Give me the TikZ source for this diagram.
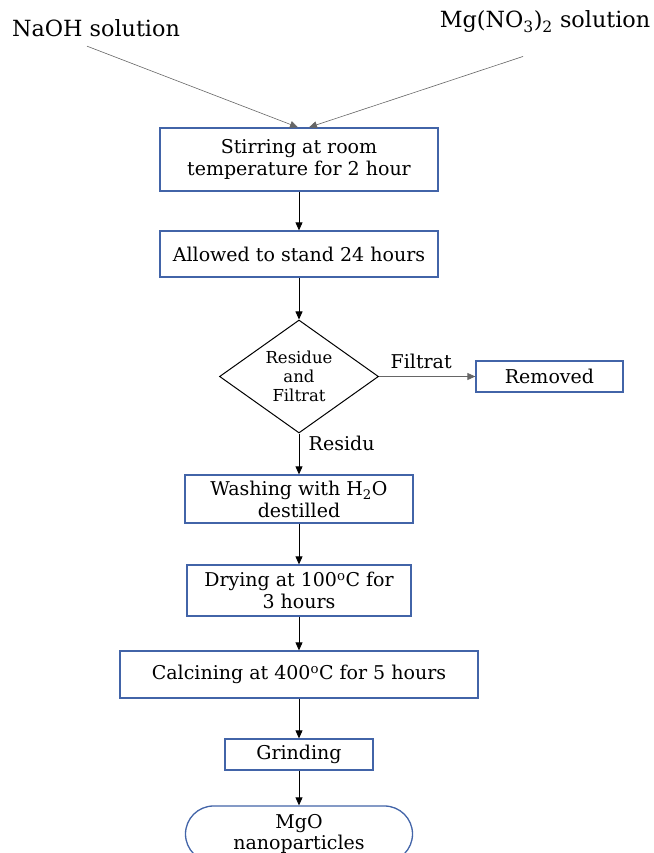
\documentclass[tikz,border=0pt]{standalone}
\usepackage{fontspec}
\setmainfont{DejaVu Serif}
\usepackage{tikz}
\usetikzlibrary{arrows.meta,shapes,calc}
\usetikzlibrary{positioning}
\definecolor{boxblue}{RGB}{66,100,168}
\tikzset{
    stage/.style={
           rectangle,
           draw=boxblue, line width=1.3pt,
           inner sep=2pt,
           align=center,
           font=\fontsize{19}{22}\selectfont,
           },
    split/.style={
           diamond,
           aspect=1.4,
           draw=black, line width=1pt,
           inner sep=0pt,
           minimum width=159pt,
           minimum height=113pt,
           align=center,
           font=\fontsize{16.5}{19}\selectfont,
           },
    pil/.style={
           -{Triangle[length=8pt,width=7pt]},
           line width=0.8pt,},
    feed/.style={
           -{Triangle[length=8pt,width=7pt]},
           line width=0.6pt,
           draw=black!60,}
}

\begin{document}
\begin{tikzpicture}[font=\fontsize{19}{22}\selectfont]
\path[use as bounding box] (0,0) rectangle (653pt,-853pt);
\clip (0,0) rectangle (653pt,-853pt);
% Starting solutions (NAOH, MG)
\node[font=\fontsize{22.3}{25}\selectfont] (NAOH) at (96pt,-28pt) {NaOH solution};
\node[font=\fontsize{22.3}{25}\selectfont] (MG) at (545pt,-22pt) {Mg(NO\textsubscript{3})\textsubscript{2} solution};
% Position of Stirring (STIR)
\node[stage,
minimum width = 278pt,
minimum height = 63pt] (STIR) at (299pt,-159.5pt)
{Stirring at room\\temperature for 2 hour};
% Position of Standing (STAND)
\node[stage,
minimum width = 278pt,
minimum height = 46pt,
below of = STIR,
node distance = 94.5pt] (STAND)
{Allowed to stand 24 hours};
% Position of Residue and Filtrat (SPLIT)
\node[split,
below of = STAND,
node distance = 122.5pt] (SPLIT)
{Residue\\and\\Filtrat};
% Position of Removed (REMOVED)
\node[stage,
minimum width = 147pt,
minimum height = 31pt,
right of = SPLIT,
node distance = 250.5pt] (REMOVED)
{Removed};
% Position of Washing (WASH)
\node[stage,
minimum width = 228pt,
minimum height = 48pt,
below of = SPLIT,
node distance = 122.5pt] (WASH)
{Washing with H\textsubscript{2}O\\destilled};
% Position of Drying (DRY)
\node[stage,
minimum width = 224pt,
minimum height = 51pt,
below of = WASH,
node distance = 91.5pt] (DRY)
{Drying at 100\textsuperscript{o}C for\\3 hours};
% Position of Calcining (CALC)
\node[stage,
minimum width = 358pt,
minimum height = 47pt,
below of = DRY,
node distance = 84pt] (CALC)
{Calcining at 400\textsuperscript{o}C for 5 hours};
% Position of Grinding (GRIND)
\node[stage,
minimum width = 148pt,
minimum height = 31pt,
below of = CALC,
node distance = 80pt] (GRIND)
{Grinding};
% Position of MgO nanoparticles (MGO)
\node[stage,
rounded corners = 28pt,
font = \fontsize{19}{21}\selectfont,
minimum width = 227pt,
minimum height = 56pt,
below of = GRIND,
node distance = 79.5pt] (MGO)
{MgO\\nanoparticles};
% Draw lines on graph
\draw[feed] ([xshift=-9pt,yshift=-6pt]NAOH.south) -- ([xshift=-1pt]STIR.north);
\draw[feed] ([xshift=-22pt,yshift=-20pt]MG.south) -- ([xshift=10pt]STIR.north);
\path (STIR) edge[pil] (STAND);
\path (STAND) edge[pil] (SPLIT);
\path (SPLIT) edge[pil, draw=black!60] node[above, yshift=4pt, xshift=-6pt] {Filtrat} (REMOVED);
\path (SPLIT) edge[pil] node[right, pos=0.25, xshift=6pt] {Residu} (WASH);
\path (WASH) edge[pil] (DRY);
\path (DRY) edge[pil] (CALC);
\path (CALC) edge[pil] (GRIND);
\path (GRIND) edge[pil] (MGO);
\end{tikzpicture}
\end{document}
